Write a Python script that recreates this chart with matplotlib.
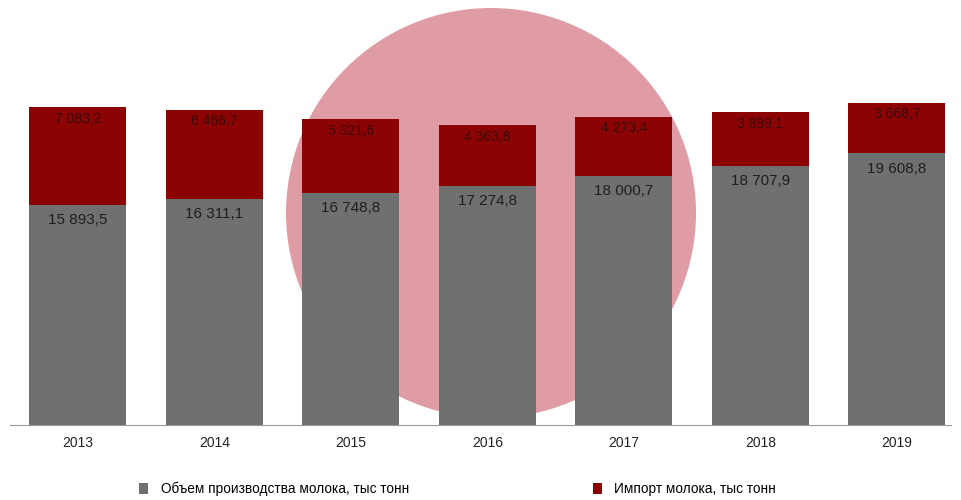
import matplotlib
matplotlib.use("Agg")
import matplotlib.pyplot as plt
from matplotlib.patches import Circle, Patch

years = ["2013", "2014", "2015", "2016", "2017", "2018", "2019"]
production = [15893.5, 16311.1, 16748.8, 17274.8, 18000.7, 18707.9, 19608.8]
imports = [7083.2, 6466.7, 5321.6, 4363.8, 4273.4, 3899.1, 3668.7]
prod_labels = ["15 893,5", "16 311,1", "16 748,8", "17 274,8", "18 000,7", "18 707,9", "19 608,8"]
imp_labels = ["7 083,2", "6 466,7", "5 321,6", "4 363,8", "4 273,4", "3 899,1", "3 668,7"]

plt.rcParams['font.family'] = ['Liberation Sans', 'DejaVu Sans']

fig = plt.figure(figsize=(9.61, 5.0), dpi=100)
# watermark circle (in inches, so it stays round)
circ = Circle((4.91, 5.0 - 2.13), 2.05, transform=fig.dpi_scale_trans,
              facecolor="#df9ca5", edgecolor="none", zorder=-5)
fig.patches.append(circ)

ax = fig.add_axes([0.01, 0.15, 0.98, 0.72], zorder=1)
ax.patch.set_alpha(0)
x = list(range(len(years)))
gray = "#6f7170"
red = "#8b0303"
ax.bar(x, production, width=0.71, color=gray, zorder=2)
ax.bar(x, imports, width=0.71, bottom=production, color=red, zorder=2)

for i in x:
    ax.text(i, production[i] - 1100, prod_labels[i], ha="center", va="center",
            fontsize=11, color="#1e1e1e", zorder=3)
    ax.text(i, production[i] + imports[i] - 850, imp_labels[i], ha="center", va="center",
            fontsize=10, color="#3a0a0a", zorder=3)

ax.set_xlim(-0.5, 6.4)
ax.set_ylim(0, 26000)
ax.set_yticks([])
ax.set_xticks(x)
ax.set_xticklabels(years, fontsize=10, color="#222222")
ax.tick_params(axis="x", length=0, pad=8)
for s in ["top", "right", "left"]:
    ax.spines[s].set_visible(False)
ax.spines["bottom"].set_color("#999999")
ax.spines["bottom"].set_linewidth(0.8)

handles = [Patch(facecolor=gray, label="Объем производства молока, тыс тонн"),
           Patch(facecolor=red, label="Импорт молока, тыс тонн")]
fig.legend(handles=handles, loc="center", bbox_to_anchor=(0.476, 0.022), ncol=2,
           frameon=False, fontsize=9.8, columnspacing=13.5, handlelength=0.7,
           handleheight=0.9, handletextpad=0.9)

fig.savefig("out.png", dpi=100)
